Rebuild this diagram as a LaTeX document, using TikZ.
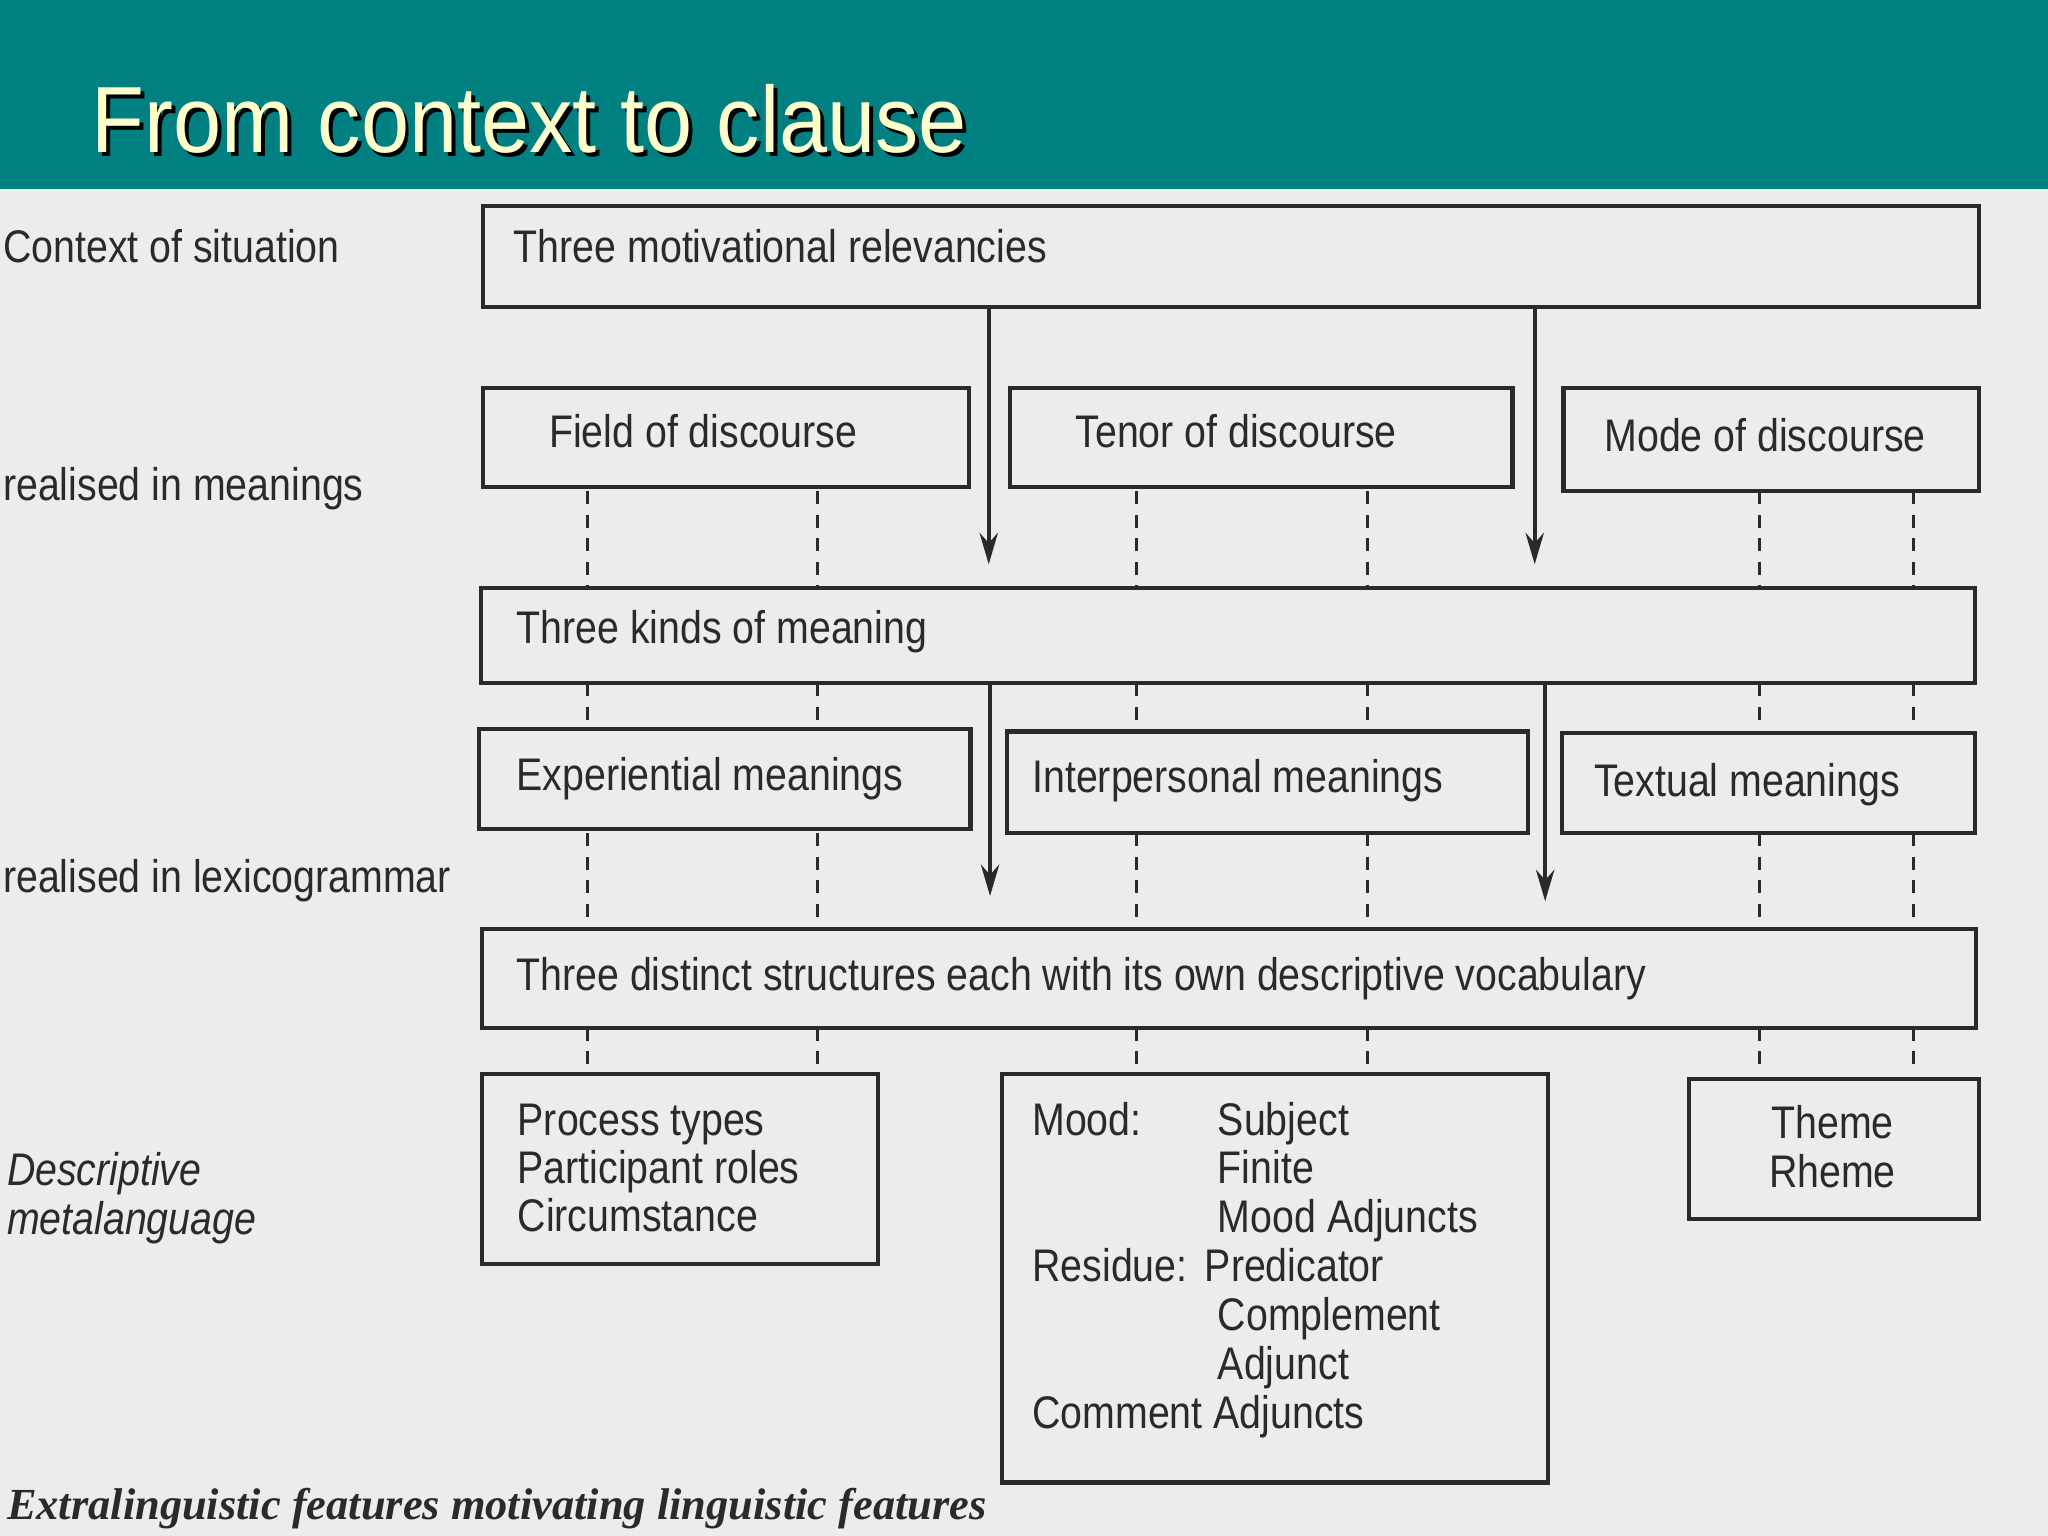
\documentclass[tikz,border=0pt]{standalone}
\usepackage{fontspec}
\setmainfont{Liberation Sans}[FakeStretch=0.86]
\newfontfamily\titlefont{Liberation Sans}[FakeStretch=0.92]
\newfontfamily\capfont{Liberation Serif}
\usetikzlibrary{arrows.meta}
\definecolor{teal1}{HTML}{008080}
\definecolor{bg}{HTML}{ECECEC}
\definecolor{ink}{HTML}{2A2A2A}
\definecolor{titlec}{HTML}{FFFFCC}
\begin{document}
\begin{tikzpicture}[x=0.5pt,y=-0.5pt,
  bx/.style={draw=ink,line width=1.6pt},
  dl/.style={draw=ink,line width=1.3pt,dash pattern=on 5pt off 4pt},
  ar/.style={draw=ink,line width=1.6pt,-{Stealth[length=12pt,width=7pt]}},
  tx/.style={anchor=base west,inner sep=0,font=\fontsize{17.5}{21}\selectfont,text=ink},
  lb/.style={anchor=base west,inner sep=0,font=\fontsize{17.5}{21}\selectfont,text=ink}]
\useasboundingbox (0,0) rectangle (1568,1176);
\fill[bg] (0,0) rectangle (1568,1176);
\fill[teal1] (0,0) rectangle (1568,145);
\node[anchor=base west,inner sep=0,font=\titlefont\fontsize{36}{44}\selectfont,text=black] at (73,120) {From context to clause};
\node[anchor=base west,inner sep=0,font=\titlefont\fontsize{36}{44}\selectfont,text=titlec] (title) at (70,117) {From context to clause};
% boxes
\draw[bx] (370,158) rectangle (1515,235);
\node[tx] (tm) at (393,201) {Three motivational relevancies};
\draw[bx] (370,297) rectangle (742,373);
\node[tx] (fd) at (420,343) {Field of discourse};
\draw[bx] (773,297) rectangle (1158,373);
\node[tx] (td) at (823,343) {Tenor of discourse};
\draw[bx] (1197,297) rectangle (1515,376);
\node[tx] (md) at (1228,346) {Mode of discourse};
\draw[bx] (368,450) rectangle (1512,523);
\node[tx] (tk) at (395,493) {Three kinds of meaning};
\draw[bx] (367,558) rectangle (743,635);
\node[tx] (em) at (395,605) {Experiential meanings};
\draw[bx] (771,560) rectangle (1170,638);
\node[tx] (im) at (790,607) {Interpersonal meanings};
\draw[bx] (1196,561) rectangle (1512,638);
\node[tx] (tmn) at (1220,610) {Textual meanings};
\draw[bx] (369,711) rectangle (1513,787);
\node[tx] (ts) at (395,758) {Three distinct structures each with its own descriptive vocabulary};
\draw[bx] (369,822) rectangle (672,968);
\node[tx] at (396,869) {Process types};
\node[tx] at (396,906) {Participant roles};
\node[tx] at (396,943) {Circumstance};
\draw[bx] (767,822) rectangle (1185,1135);
\node[tx] at (790,869) {Mood:};
\node[tx] at (932,869) {Subject};
\node[tx] at (932,906) {Finite};
\node[tx] at (932,944) {Mood Adjuncts};
\node[tx] at (790,981) {Residue:};
\node[tx] at (922,981) {Predicator};
\node[tx] at (932,1019) {Complement};
\node[tx] at (932,1056) {Adjunct};
\node[tx] at (790,1094) {Comment Adjuncts};
\draw[bx] (1293,826) rectangle (1515,933);
\node[tx,anchor=base] at (1403,872) {Theme};
\node[tx,anchor=base] at (1403,909) {Rheme};
% left labels
\node[lb] at (2,201) {Context of situation};
\node[lb] at (2,383) {realised in meanings};
\node[lb] at (2,683) {realised in lexicogrammar};
\node[lb,font=\fontsize{17.5}{21}\selectfont\itshape] at (5,908) {Descriptive};
\node[lb,font=\fontsize{17.5}{21}\selectfont\itshape] at (5,945) {metalanguage};
\node[anchor=base west,inner sep=0,font=\capfont\fontsize{17}{20}\selectfont\bfseries\itshape,text=ink] at (5,1163) {Extralinguistic features motivating linguistic features};
% arrows
\draw[ar] (757,235) -- (757,432);
\draw[ar] (1175,235) -- (1175,432);
\draw[ar] (758,523) -- (758,686);
\draw[ar] (1183,523) -- (1183,690);
% dashed
\foreach \x in {450,626,870,1047,1347,1465}{
  \draw[dl] (\x,376) -- (\x,450);
  \draw[dl] (\x,523) -- (\x,558);
  \draw[dl] (\x,638) -- (\x,711);
  \draw[dl] (\x,787) -- (\x,822);
}
\end{tikzpicture}
\end{document}
